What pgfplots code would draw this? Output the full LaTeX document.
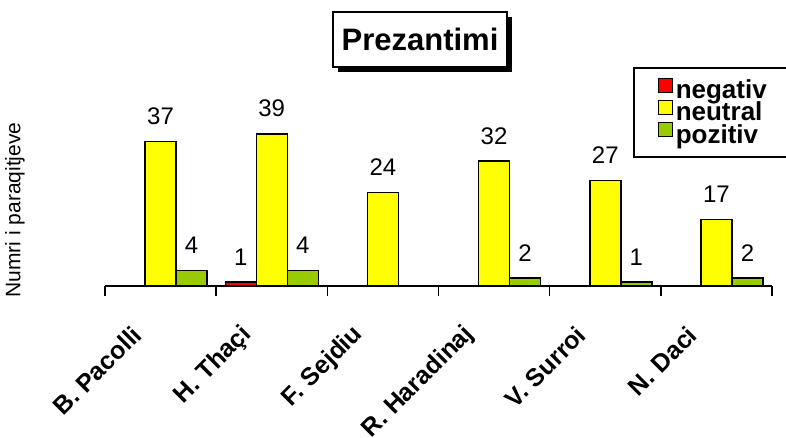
\documentclass[border=0pt]{standalone}
\usepackage{pgfplots}
\pgfplotsset{compat=1.18}
\usepackage{fontspec}
\setmainfont{Liberation Sans}
\definecolor{cneg}{RGB}{255,0,0}
\definecolor{cneu}{RGB}{255,255,0}
\definecolor{cpoz}{RGB}{153,204,0}
\begin{document}
\begin{tikzpicture}
\useasboundingbox (0,0) rectangle (786pt,437pt);
\begin{axis}[
  at={(105pt,151pt)}, anchor=south west,
  scale only axis, width=667pt, height=195pt,
  xmin=-0.5, xmax=5.5, ymin=0, ymax=50,
  axis x line=bottom, axis y line=none,
  axis line style={-, line width=1.5pt, black},
  ybar=0pt, bar width=31pt,
  every axis plot post/.append style={legend image code/.code={\draw[#1, line width=1pt] (0pt,0pt) rectangle (14pt,14pt);}},
  xtick={0,...,5},
  xticklabels={B. Pacolli, H. Thaçi, F. Sejdiu, R. Haradinaj, V. Surroi, N. Daci},
  major tick length=0pt,
  xtick align=outside,
  extra x ticks={-0.5,0.5,...,5.5},
  extra x tick labels={},
  extra x tick style={major tick length=10pt, xtick align=outside, tick style={line width=1.5pt, black}},
  ytick=\empty,
  xticklabel style={font=\fontsize{25}{25}\selectfont\bfseries, xshift=-21.4pt, yshift=-42.3pt, rotate=45, anchor=east},
  nodes near coords,
  nodes near coords style={font=\fontsize{24}{24}\selectfont, text=black, inner sep=0pt, anchor=south, yshift=16pt},
  /pgf/number format/assume math mode=true,
  clip=false,
  legend style={at={(0.7916,1.123)}, anchor=north west, draw=black, line width=1.5pt,
    inner xsep=24pt, inner ysep=10pt, row sep=-2.5pt,
    font=\fontsize{26}{26}\selectfont\bfseries,
    /tikz/every odd column/.append style={column sep=3pt},
    nodes={inner sep=0pt, text height=16.5pt, text depth=4pt}},
  legend cell align=left,
]
\addplot[fill=cneg, draw=black, line width=1.5pt] coordinates {(1,1)};
\addplot[fill=cneu, draw=black, line width=1.5pt] coordinates {(0,37) (1,39) (2,24) (3,32) (4,27) (5,17)};
\addplot[fill=cpoz, draw=black, line width=1.5pt] coordinates {(0,4) (1,4) (3,2) (4,1) (5,2)};
\legend{negativ, neutral, pozitiv}
\end{axis}
\node[rotate=90, font=\fontsize{21}{21}\selectfont] at (15pt,227pt) {Numri i paraqitjeve};
\fill[black] (338pt,365pt) rectangle (512pt,420pt);
\node[draw=black, line width=1.5pt, fill=white, minimum width=174pt, minimum height=55pt, inner sep=0pt,
  font=\fontsize{31}{31}\selectfont\bfseries] at (420pt,397.5pt) {Prezantimi};
\end{tikzpicture}
\end{document}
